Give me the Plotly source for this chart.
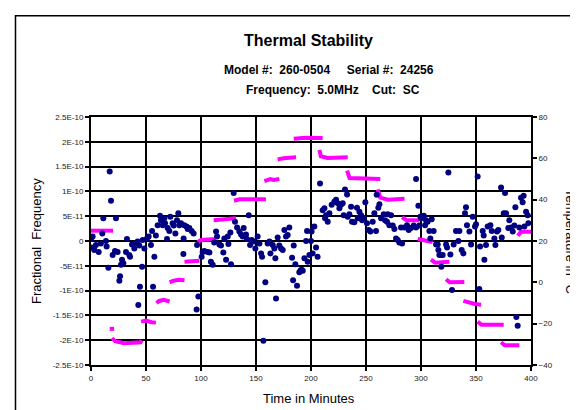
import plotly.graph_objects as go

# Time (minutes) and fractional frequency (in units of 1E-11) of each reading
freq_time = [
    0, 0.5, 1.5, 3, 4.5, 7, 9, 10.3, 11.2, 13.6, 14.2, 15.8, 17, 18.2, 19.7, 21.8,
    22.7, 24.2, 25.8, 26.4, 27.3, 28.2, 29.4, 31.8, 32.7, 34.8, 35.5, 37.3, 39.4,
    40.9, 42.4, 43, 43.9, 44.5, 46.4, 47, 48.5, 50.9, 52.4, 54.5, 55.5, 56.4, 57.6,
    59, 60.6, 62.7, 63.6, 65.2, 66.7, 67.3, 69.1, 69.7, 71.2, 72.1, 74.2, 75.2, 76.7,
    78.2, 79.4, 80.3, 81.8, 84, 84.2, 84.8, 86.9, 87.9, 89.4, 91.5, 93.3, 96, 96.4,
    97.6,
    100.6, 101.5, 103, 106, 107.6, 109, 110.6, 112, 113.7, 114.6, 116.7, 118.2,
    120.3, 121.2, 122.8, 124.3, 124.9, 126.7, 127.3, 129.7, 130.9, 132.8, 134.9,
    136.4, 137.9, 138.8, 140.9, 141.8, 143.4, 144.6, 146.1, 147.9, 149.4, 151.5,
    153.1, 154.6, 155.5, 156.7, 158.5, 160.6, 162.2, 163.1, 165.2, 166.7, 167.6,
    168.2, 169.7, 171.2, 172.8, 174.3, 175.8, 177.3, 178.8, 180.3, 182.8, 183.7,
    184.3, 185.8, 187.3, 189.4, 190.6, 191.5, 192.5, 194, 195.5, 196.4, 197, 198.5,
    200, 200.5, 201.5, 203, 204.6, 206, 208.2, 210.6, 212.2, 212.8, 213.7, 215.2,
    216.7, 218.8, 221.2, 222.8, 224.3, 225.8, 227.3, 228.8, 229.7, 230.9, 232.8,
    233.4, 234.9, 236.4, 237.3, 239.4, 241.8, 242.5, 244, 245.5, 246.4, 247.9,
    249.4, 250.9, 252.5, 254, 256.1, 257.6, 259.1, 259.7, 261.2, 262.2, 263.7,
    266.1, 267.3, 269.1, 269.7, 271.2, 272.8, 274.3, 275.8, 277.3, 278.8, 280.3,
    281.8, 282.8, 284.8, 287.3, 288.8, 290.9, 293.4, 295.5, 295.5, 297.6, 298.5,
    299.4,
    300, 302.5, 303.7, 304.6, 306, 307.6, 308.5, 309.7, 311.5, 313.7, 315.2, 315.8,
    316.7, 318.2, 318.5, 319.7, 322.8, 323.7, 324.9, 326.7, 328.2, 329.7, 331.8,
    334, 334.9, 337, 338.5, 340, 340.9, 341.8, 344, 345.5, 347, 349.1, 350, 351.5,
    353, 353.7, 356.1, 357, 357.6, 359.1, 360.6, 363.1, 364.3, 366.7, 367.6, 369.1,
    370.3, 372.8, 373.4, 375.2, 376.4, 377.3, 379.4, 380.3, 381.8, 383.4, 384.9,
    385.8, 386.7, 387.9, 389.4, 390.9, 392.4, 393.3, 394, 395.5, 397, 397.6,
]
freq_e11 = [
    0.4, -1.3, 0.9, -1.8, -0.8, -2.2, -0.5, 1.5, 4.6, 0, -1.1, -5.4, 14.0, 8.1, -2.8, -2.0,
    4.6, -2.2, -8.0, -7.1, -4.8, -3.8, -4.5, -2.2, 0.4, -2.8, -3.2, -0.7, -1.5,
    -0.5, -0.1, -12.9, -0.9, -9.2, -5.2, 0.2, -1.5, 0.5, 0.9, -0.8, 2.0, -9.2, -3.2,
    1.1, 3.2, 5.1, 4.2, 3.2, 4.6, 3.6, 0.4, 2.6, 2.0, 4.9, 3.6, 3.1, 1.5,
    4.2, 5.6, 3.2, 3.6, -2.6, 0.5, 3.2, 2.9, 2.4, 2.6, 2.0, 1.5, -13.8, -0.8,
    -11.2,
    -3.2, -2.2, -2.0, -2.2, -2.3, -4.2, -4.8, -0.3, 1.9, 0.9, -0.7, -0.9,
    -2.3, 0.5, -3.8, 0.9, -0.6, 1.7, -4.7, 9.7, 3.9, 2.7, 1.9,
    1.3, 0.9, 2.6, 1.3, 0.4, 5.2, -0.8, 0.2, -0.1, -1.5, 0.9,
    -0.5, -2.5, -3.2, -20.1, -8.3, -0.5, -0.1, -2.5, -0.8, -1.5, -3.5,
    -11.6, 0.7, -0.9, -1.5, -1.8, 2.2, 0.9, 1.2, 2.7, -3.4, -7.9,
    -0.9, -4.7, -9.0, -6.3, -5.9, -5.8, -6.0, -3.5, 0, 2.0, -4.2, -2.8,
    0, 1.9, -2.5, 2.9, -1.3, -3.2, 11.6, 6.2, 6.6, 4.6, 5.2, 3.9,
    5.6, 7.3, 7.9, 8.3, 7.6, 6.6, 7.3, 7.6, 5.2, 10.4, 9.4,
    4.9, 5.4, 6.9, 3.9, 3.8, 6.7, 4.6, 5.9, 5.2, 4.2, 4.6,
    7.8, 3.6, 2.2, 1.9, 3.9, 5.6, 2.0, 9.3, 6.7, 7.4, 4.6,
    5.4, 4.2, 3.9, 5.4, 3.2, 5.2, 3.1, 2.4, 0.5, 0.2, -0.3,
    2.7, -0.5, 2.7, 3.2, 2.2, 2.6, 3.1, 12.5, 2.7, 7.1, 3.1,
    4.9,
    4.6, 5.1, 3.2, 4.2, 3.9, 2.0, 0.5, 4.4, 2.0, -0.7, -0.7, -1.8,
    -2.8, -2.8, -5.2, -2.8, -0.7, -1.3, 13.8, -2.7, -9.9, -0.7, 2.0,
    0, 2.0, -1.8, -2.5, 5.6, 6.8, 3.2, 1.9, -0.7, 4.9, 2.9, 3.4, 13.0,
    -9.7, -1.1, 2.0, 1.1, -3.8, -0.8, 2.9, 3.2, 2.0, 0.5, -0.8, 1.9,
    2.2, 10.8, 0.7, 5.6, 9.7, 5.6, 2.6, 4.2, 2.7, 1.9, 3.1,
    6.8, -15.3, -17.1, 2.7, 8.7, 7.8, 9.1, 2.9, 5.9, 5.2, 3.6,
]

# Oven temperature steps (minutes, degrees C); None breaks the line between steps
temp_time = [
    0, 20, None, 17, 21, None, 19, 22, 30, 45, 46, None,
    45.5, 50, 55, 59, None, 59.5, 62, 66, 70, 71.5, None,
    71.5, 75, 80, 85, None, 85, 90, 98.5, None, 97, 100, 113.7, None,
    111.5, 120, 131.8, None, 130, 135, 159, None, 157.6, 163, 166, 171.2, None,
    169.7, 175, 186.4, None, 184.3, 195, 210.6, None,
    207.6, 209, 215, 233.4, None, 232.8, 235, 263, None,
    260.6, 263, 270, 285, None, 282.8, 287, 298.5, None,
    297, 302, 310.6, None, 309, 313, 325.8, None, 322.8, 326, 339.4, None,
    338.5, 344, 349, 354.6, None, 351.5, 355, 375.2, None,
    372.8, 376, 389.4, None, 388, 391, 400,
]
temp_c = [
    25, 25, None, -22.5, -22.5, None, -27, -28.5, -29.5, -29, -28, None,
    -19, -18.5, -19.3, -19.5, None, -10, -9, -8.5, -9, -9.3, None,
    0, 0.8, 1.2, 1, None, 10, 10.2, 10.5, None, 19.5, 20.5, 21, None,
    30, 30.5, 31, None, 39.5, 40.2, 40.2, None, 49, 50, 49.5, 50, None,
    59.5, 60, 60.5, None, 69.5, 70, 69.8, None,
    64, 61, 60.2, 60.5, None, 54, 50.5, 50, None,
    45, 41, 40, 40.5, None, 31.5, 30, 30, None,
    21, 20.5, 19.5, None, 11, 9.5, 10, None, 1.5, 0, 0.2, None,
    -9, -10, -10.5, -10.8, None, -19, -20.5, -20.5, None,
    -29, -30.5, -30.5, None, 22.5, 24.5, 24.5,
]

freq_ticks = [-2.5e-10, -2e-10, -1.5e-10, -1e-10, -5e-11, 0,
              5e-11, 1e-10, 1.5e-10, 2e-10, 2.5e-10]
freq_tick_labels = ["-2.5E-10", "-2E-10", "-1.5E-10", "-1E-10", "-5E-11", "0",
                    "5E-11", "1E-10", "1.5E-10", "2E-10", "2.5E-10"]

FONT = "Arial, Liberation Sans, sans-serif"

fig = go.Figure()

# temperature on the primary axis (right side) so the readings draw above it
fig.add_trace(go.Scatter(
    x=temp_time, y=temp_c, mode="lines", yaxis="y",
    line=dict(color="#FF00FF", width=4), connectgaps=False,
    name="Temperature", showlegend=False,
))
fig.add_trace(go.Scatter(
    x=freq_time, y=[v * 1e-11 for v in freq_e11], mode="markers", yaxis="y2",
    marker=dict(color="#000080", size=6),
    name="Fractional Frequency", showlegend=False,
))

axis_common = dict(
    showline=True, linecolor="black", linewidth=2,
    ticks="outside", ticklen=4, tickwidth=1.5, tickcolor="black",
    tickfont=dict(family=FONT, size=8, color="#222"),
    zeroline=False,
)

fig.update_layout(
    width=578, height=410,
    margin=dict(l=83, r=55, t=109, b=53),
    paper_bgcolor="white", plot_bgcolor="white",
    font=dict(family=FONT, color="black"),
    xaxis=dict(
        range=[0, 400], tickvals=list(range(0, 401, 50)),
        showgrid=True, gridcolor="black", gridwidth=2, mirror=True,
        **axis_common,
    ),
    yaxis=dict(
        range=[-40, 80], tickvals=list(range(-40, 81, 20)),
        side="right", showgrid=False,
        **axis_common,
    ),
    yaxis2=dict(
        range=[-2.5e-10, 2.5e-10], tickvals=freq_ticks, ticktext=freq_tick_labels,
        side="left", overlaying="y", showgrid=True, gridcolor="black", gridwidth=2,
        **axis_common,
    ),
)

# outer chart frame (runs off the right and bottom edges like the source)
fig.add_shape(type="rect", xref="paper", yref="paper",
              x0=-0.1716, x1=1.3, y0=-0.4, y1=1.408,
              line=dict(color="black", width=1.5), layer="above")

fig.add_annotation(text="<b>Thermal Stability</b>", xref="paper", yref="paper",
                   x=0.495, y=1.308, showarrow=False, yanchor="middle",
                   font=dict(family=FONT, size=16))
fig.add_annotation(text="<b>Model #:\u00a0\u00a0260-0504\u00a0\u00a0\u00a0\u00a0\u00a0Serial #:\u00a0\u00a024256</b>",
                   xref="paper", yref="paper", x=0.541, y=1.191, showarrow=False,
                   yanchor="middle", font=dict(family=FONT, size=12))
fig.add_annotation(text="<b>Frequency:\u00a0\u00a05.0MHz\u00a0\u00a0\u00a0\u00a0Cut:\u00a0\u00a0SC</b>",
                   xref="paper", yref="paper", x=0.55, y=1.110, showarrow=False,
                   yanchor="middle", font=dict(family=FONT, size=12))
fig.add_annotation(text="Time in Minutes", xref="paper", yref="paper",
                   x=0.495, y=-0.136, showarrow=False, yanchor="middle",
                   font=dict(family=FONT, size=13))
fig.add_annotation(text="Fractional  Frequency", xref="paper", yref="paper",
                   x=-0.125, y=0.5, showarrow=False, textangle=-90,
                   xanchor="center", yanchor="middle",
                   font=dict(family=FONT, size=13))
fig.add_annotation(text="Temperature in \u00b0C", xref="paper", yref="paper",
                   x=1.091, y=0.5, showarrow=False, textangle=90,
                   xanchor="center", yanchor="middle",
                   font=dict(family=FONT, size=13))

fig.write_html("out.html")
